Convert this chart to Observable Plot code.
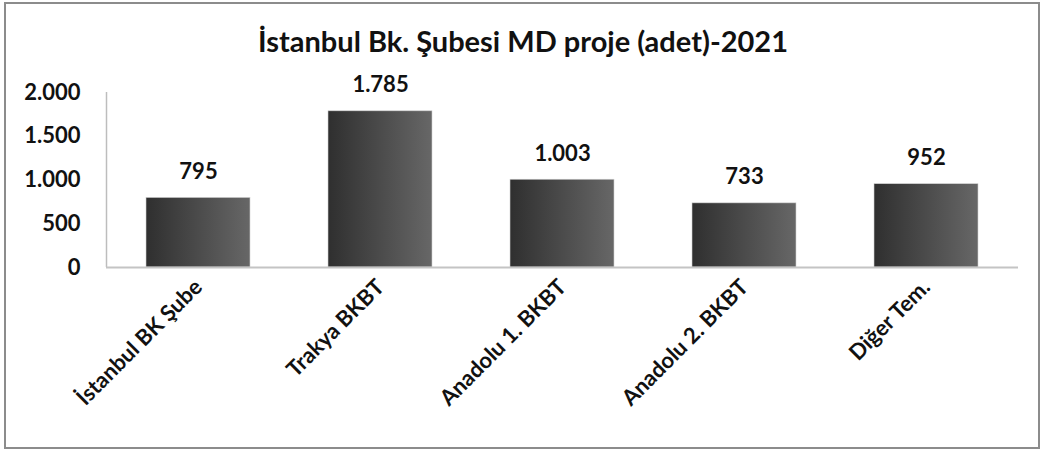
<!DOCTYPE html>
<html>
<head>
<meta charset="utf-8">
<script src="https://cdn.jsdelivr.net/npm/d3@7"></script>
<script src="https://cdn.jsdelivr.net/npm/@observablehq/plot@0.6"></script>
<style>
  html, body { margin: 0; padding: 0; background: #fff; }
  #wrap { position: relative; width: 1046px; height: 451px; overflow: hidden; background: #fff; }
  #frame { position: absolute; left: 4px; top: 2px; width: 1032px; height: 443px; border: 2px solid #8c8c8c; box-sizing: content-box; }
  #title { position: absolute; left: 0; top: 23px; width: 1046px; text-align: center; font-family: Lato, "Open Sans", sans-serif; font-weight: 700; font-size: 29px; color: #111; }
  #chart { position: absolute; left: 0; top: 0; }
</style>
</head>
<body>
<div id="wrap">
  <div id="frame"></div>
  <div id="chart"></div>
  <div id="title">İstanbul Bk. Şubesi MD proje (adet)-2021</div>
</div>
<script>
const categories = ["İstanbul BK Şube", "Trakya BKBT", "Anadolu 1. BKBT", "Anadolu 2. BKBT", "Diğer Tem."];
const values = [795, 1785, 1003, 733, 952];
const yTicks = [0, 500, 1000, 1500, 2000];

const data = categories.map((c, i) => ({category: c, value: values[i]}));
const trFormat = d3.formatLocale({decimal: ",", thousands: ".", grouping: [3], currency: ["", ""]}).format(",d");

const defs = () => {
  const d = d3.create("svg:defs");
  const g = d.append("linearGradient").attr("id", "barGrad").attr("x1", "0").attr("x2", "1").attr("y1", "0").attr("y2", "0");
  g.append("stop").attr("offset", "0%").attr("stop-color", "#2f2f2f");
  g.append("stop").attr("offset", "100%").attr("stop-color", "#676767");
  return d.node();
};

// vertical axis line at the left edge of the frame, using the y scale
const yAxisLine = (index, scales, values, dims) => {
  const g = d3.create("svg:line")
    .attr("x1", dims.marginLeft + 0.5).attr("x2", dims.marginLeft + 0.5)
    .attr("y1", scales.y(yTicks[yTicks.length - 1])).attr("y2", scales.y(0))
    .attr("stroke", "#bdbdbd").attr("stroke-width", 1.5);
  return g.node();
};

const chart = Plot.plot({
  width: 1046,
  height: 451,
  marginLeft: 106,
  marginRight: 28,
  marginTop: 92,
  marginBottom: 184,
  style: {fontFamily: "Lato, 'Open Sans', sans-serif", fontWeight: "700", fontSize: "22px", color: "#111", background: "transparent"},
  x: {domain: categories, paddingInner: 0.43, paddingOuter: 0.215, label: null, tickSize: 0, tickRotate: -45, tickPadding: 16},
  y: {domain: [0, 2000], ticks: yTicks, tickFormat: trFormat, label: null, tickSize: 0, tickPadding: 26},
  marks: [
    defs,
    Plot.barY(data, {x: "category", y: "value", fill: "url(#barGrad)", stroke: "#cfcfcf", strokeWidth: 0.6}),
    yAxisLine,
    Plot.ruleY([0], {stroke: "#c4c4c4", strokeWidth: 2}),
    Plot.text(data, {x: "category", y: "value", text: d => trFormat(d.value), dy: -26, fontSize: 22, fontWeight: 700, fill: "#111"})
  ]
});
document.getElementById("chart").appendChild(chart);
</script>
</body>
</html>
